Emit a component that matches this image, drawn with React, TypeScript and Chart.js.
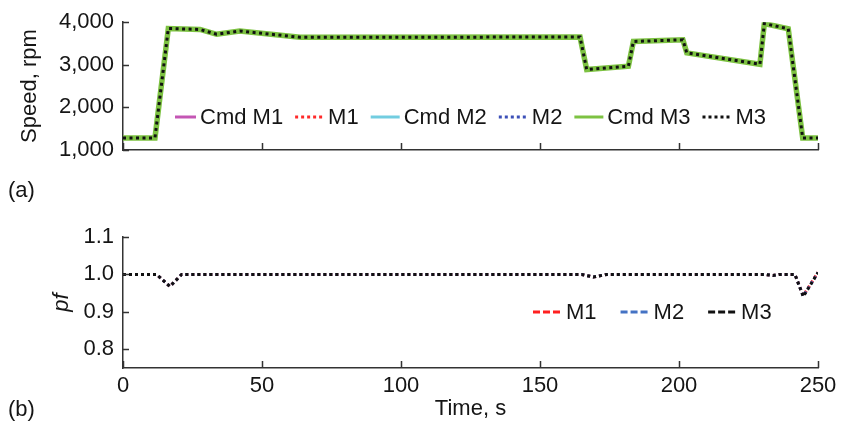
import React, { useEffect, useRef } from "react";
import { Chart, registerables } from "chart.js";

Chart.register(...registerables);

// ---------- data ----------
const timeTicks = [0, 50, 100, 150, 200, 250];
const speedTicks = [1000, 2000, 3000, 4000];
const pfTicks = [0.8, 0.9, 1.0, 1.1];

const speedTime = [0, 11.5, 16.3, 27.7, 33.7, 42, 63.7, 164.4, 166.8, 181.8, 183.6, 201.4, 202.8, 229.1, 230.7, 239.3, 244.5, 250];
const speedCmd = [1284, 1284, 3853, 3830, 3716, 3794, 3645, 3652, 2890, 2967, 3548, 3587, 3280, 3013, 3968, 3847, 1282, 1282];
const speedMeas = [1284, 1284, 3853, 3830, 3716, 3794, 3645, 3652, 2890, 2967, 3548, 3587, 3280, 3013, 3968, 3847, 1282, 1282];

const pfTime = [0, 12.1, 16.9, 21.1, 165, 169.2, 174, 231, 233.8, 236, 241.7, 244.7, 250];
const pfM1 = [1.0, 1.0, 0.968, 1.0, 1.0, 0.993, 1.0, 1.0, 0.997, 1.0, 1.0, 0.943, 1.006];
const pfM2 = [1.0, 1.0, 0.968, 1.0, 1.0, 0.993, 1.0, 1.0, 0.997, 1.0, 1.0, 0.942, 1.005];
const pfM3 = [1.0, 1.0, 0.968, 1.0, 1.0, 0.993, 1.0, 1.0, 0.997, 1.0, 1.0, 0.941, 1.005];

const speedLabels = ["Cmd M1", "M1", "Cmd M2", "M2", "Cmd M3", "M3"];
const pfLabels = ["M1", "M2", "M3"];

// ---------- helpers ----------
const FONT = "'Liberation Sans', Arial, sans-serif";
const AXIS = "#333333";
const TEXT = "#151515";

const zip = (xs: number[], ys: number[]) => xs.map((x, i) => ({ x, y: ys[i] }));

const inwardTicks = {
  id: "inwardTicks",
  afterDatasetsDraw(chart: any, _args: any, opts: any) {
    const { ctx, chartArea } = chart;
    const xs = chart.scales.x;
    const ys = chart.scales.y;
    ctx.save();
    ctx.strokeStyle = AXIS;
    ctx.lineWidth = 1.5;
    ctx.setLineDash([]);
    ctx.beginPath();
    xs.ticks.forEach((t: any) => {
      const px = Math.round(xs.getPixelForValue(t.value)) + 0.5;
      ctx.moveTo(px, chartArea.bottom);
      ctx.lineTo(px, chartArea.bottom - opts.xLen);
    });
    ys.ticks.forEach((t: any) => {
      const py = Math.round(ys.getPixelForValue(t.value)) + 0.5;
      ctx.moveTo(chartArea.left, py);
      ctx.lineTo(chartArea.left + opts.yLen, py);
    });
    ctx.stroke();
    ctx.restore();
  },
};

const lineLegend = {
  id: "lineLegend",
  afterDraw(chart: any, _args: any, opts: any) {
    const { ctx } = chart;
    ctx.save();
    ctx.font = `22px ${FONT}`;
    ctx.textBaseline = "middle";
    ctx.textAlign = "left";
    let x = opts.x;
    chart.data.datasets.forEach((ds: any, i: number) => {
      const w = opts.sampleWidths[i];
      ctx.beginPath();
      ctx.setLineDash(ds.legendDash || []);
      ctx.strokeStyle = ds.borderColor;
      ctx.lineWidth = ds.legendWidth || 3;
      ctx.moveTo(x, opts.y);
      ctx.lineTo(x + w, opts.y);
      ctx.stroke();
      ctx.setLineDash([]);
      x += w + opts.textGap;
      ctx.fillStyle = TEXT;
      ctx.fillText(ds.label, x, opts.y + 1);
      x += ctx.measureText(ds.label).width + opts.itemGap;
    });
    ctx.restore();
  },
};

const setTicks = (vals: number[]) => (s: any) => {
  s.ticks = vals.map((v) => ({ value: v }));
};

function SpeedChart() {
  const ref = useRef<HTMLCanvasElement>(null);
  useEffect(() => {
    const colors = ["#C456B4", "#FF2A2A", "#72CDE0", "#3C50B8", "#7DC242", "#111111"];
    const dashes = [[], [3, 3.5], [], [3, 3.5], [], [3, 3.5]];
    const widths = [3, 3, 3, 3, 5.5, 3];
    const orders = [5, 4, 3, 2, 1, 0];
    const datasets = speedLabels.map((label, i) => ({
      label,
      data: zip(speedTime, i % 2 === 0 ? speedCmd : speedMeas),
      borderColor: colors[i],
      backgroundColor: colors[i],
      borderWidth: widths[i],
      borderDash: dashes[i],
      legendDash: i % 2 === 0 ? [] : [3, 3],
      legendWidth: 3,
      order: orders[i],
      pointRadius: 0,
      tension: 0,
      fill: false,
    }));
    const chart = new Chart(ref.current as HTMLCanvasElement, {
      type: "line",
      data: { datasets } as any,
      options: {
        animation: false,
        responsive: false,
        devicePixelRatio: 1,
        events: [],
        layout: { padding: { left: 0, right: 24, top: 19, bottom: 0 } },
        plugins: {
          legend: { display: false },
          tooltip: { enabled: false },
          lineLegend: { x: 175, y: 117, sampleWidths: [21, 29, 29, 29, 29, 29], textGap: 4, itemGap: 12 },
          inwardTicks: { xLen: 7, yLen: 6 },
        } as any,
        scales: {
          x: {
            type: "linear",
            min: 0,
            max: 250,
            afterBuildTicks: setTicks(timeTicks),
            afterFit: (s: any) => {
              s.height = 50;
            },
            grid: { display: false, drawTicks: false },
            border: { display: true, color: AXIS, width: 1.5 },
            ticks: { display: false },
          },
          y: {
            type: "linear",
            min: 1000,
            max: 4000,
            afterBuildTicks: setTicks(speedTicks),
            afterFit: (s: any) => {
              s.width = 123;
            },
            grid: { display: false, drawTicks: false },
            border: { display: true, color: AXIS, width: 1.5 },
            ticks: {
              padding: 9,
              color: TEXT,
              font: { size: 22, family: FONT },
              callback: (v: any) => Number(v).toLocaleString("en-US"),
            },
            title: {
              display: true,
              text: "Speed, rpm",
              color: TEXT,
              font: { size: 22, family: FONT },
              padding: { top: 17, bottom: 0 },
            },
          },
        },
      } as any,
      plugins: [inwardTicks, lineLegend] as any,
    });
    return () => chart.destroy();
  }, []);
  return (
    <canvas
      ref={ref}
      width={842}
      height={200}
      style={{ position: "absolute", left: 0, top: 0, width: 842, height: 200 }}
    />
  );
}

function PfChart() {
  const ref = useRef<HTMLCanvasElement>(null);
  useEffect(() => {
    const colors = ["#FF2020", "#4472C4", "#111111"];
    const series = [pfM1, pfM2, pfM3];
    const datasets = pfLabels.map((label, i) => ({
      label,
      data: zip(pfTime, series[i]),
      borderColor: colors[i],
      backgroundColor: colors[i],
      borderWidth: 3,
      borderDash: [3, 3],
      legendDash: [7, 3],
      legendWidth: 3,
      order: 2 - i,
      pointRadius: 0,
      tension: 0,
      fill: false,
    }));
    const chart = new Chart(ref.current as HTMLCanvasElement, {
      type: "line",
      data: { datasets } as any,
      options: {
        animation: false,
        responsive: false,
        devicePixelRatio: 1,
        events: [],
        layout: { padding: { left: 0, right: 24, top: 37, bottom: 0 } },
        plugins: {
          legend: { display: false },
          tooltip: { enabled: false },
          lineLegend: { x: 533, y: 112, sampleWidths: [27, 27, 27], textGap: 6, itemGap: 24 },
          inwardTicks: { xLen: 7, yLen: 6 },
        } as any,
        scales: {
          x: {
            type: "linear",
            min: 0,
            max: 250,
            afterBuildTicks: setTicks(timeTicks),
            afterFit: (s: any) => {
              s.height = 54;
            },
            grid: { display: false, drawTicks: false },
            border: { display: true, color: AXIS, width: 1.5 },
            ticks: {
              padding: 5,
              maxRotation: 0,
              color: TEXT,
              font: { size: 22, family: FONT },
            },
            title: {
              display: true,
              text: "Time, s",
              color: TEXT,
              font: { size: 22, family: FONT },
              padding: { top: 0, bottom: 0 },
            },
          },
          y: {
            type: "linear",
            min: 0.75,
            max: 1.1,
            afterBuildTicks: setTicks(pfTicks),
            afterFit: (s: any) => {
              s.width = 123;
            },
            grid: { display: false, drawTicks: false },
            border: { display: true, color: AXIS, width: 1.5 },
            ticks: {
              padding: 9,
              color: TEXT,
              font: { size: 22, family: FONT },
              callback: (v: any) => Number(v).toFixed(1),
            },
            title: {
              display: true,
              text: "pf",
              color: TEXT,
              font: { size: 22, family: FONT, style: "italic" },
              padding: { top: 49, bottom: 0 },
            },
          },
        },
      } as any,
      plugins: [inwardTicks, lineLegend] as any,
    });
    return () => chart.destroy();
  }, []);
  return (
    <canvas
      ref={ref}
      width={842}
      height={222}
      style={{ position: "absolute", left: 0, top: 200, width: 842, height: 222 }}
    />
  );
}

const panelLabel: React.CSSProperties = {
  position: "absolute",
  left: 8,
  fontFamily: FONT,
  fontSize: 22,
  lineHeight: "22px",
  color: TEXT,
  whiteSpace: "nowrap",
};

export default function App() {
  return (
    <div style={{ position: "absolute", left: 0, top: 0, width: 842, height: 422, background: "#ffffff", overflow: "hidden" }}>
      <SpeedChart />
      <PfChart />
      <div style={{ ...panelLabel, top: 179 }}>(a)</div>
      <div style={{ ...panelLabel, top: 398 }}>(b)</div>
    </div>
  );
}
